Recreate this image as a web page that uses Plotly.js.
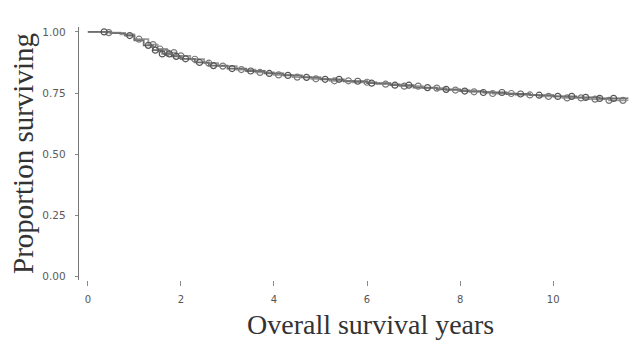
<!DOCTYPE html>
<html>
<head>
<meta charset="utf-8">
<script src="https://cdn.plot.ly/plotly-3.0.1.min.js"></script>
<style>html,body{margin:0;padding:0;background:#fff;}#chart{width:629px;height:343px;}</style>
</head>
<body>
<div id="chart"></div>
<script>
// Group A step curve
const timeA = [0, 0.5, 0.8, 1.0, 1.2, 1.4, 1.6, 1.8, 2.0, 2.3, 2.6, 3.0, 3.4, 3.8, 4.2, 4.6, 5.0, 5.5, 6.0, 6.5, 7.0, 7.5, 8.0, 8.5, 9.0, 9.5, 10.0, 10.5, 11.0, 11.6];
const survA = [1.0, 0.995, 0.985, 0.965, 0.945, 0.925, 0.91, 0.9, 0.89, 0.875, 0.862, 0.85, 0.84, 0.83, 0.822, 0.814, 0.806, 0.798, 0.79, 0.782, 0.772, 0.765, 0.758, 0.752, 0.746, 0.741, 0.736, 0.732, 0.728, 0.726];
// Group B step curve
const timeB = [0, 0.4, 0.7, 1.0, 1.3, 1.5, 1.7, 1.9, 2.2, 2.5, 2.8, 3.2, 3.6, 4.0, 4.4, 4.8, 5.2, 5.7, 6.2, 6.7, 7.2, 7.7, 8.2, 8.7, 9.2, 9.7, 10.2, 10.7, 11.2, 11.6];
const survB = [1.0, 0.997, 0.99, 0.97, 0.948, 0.93, 0.915, 0.902, 0.888, 0.872, 0.86, 0.846, 0.834, 0.824, 0.815, 0.808, 0.8, 0.794, 0.786, 0.778, 0.77, 0.762, 0.755, 0.748, 0.742, 0.736, 0.73, 0.725, 0.72, 0.718];
// Censoring times
const censorA = [0.35, 0.9, 1.3, 1.45, 1.6, 1.75, 1.9, 2.1, 2.4, 2.7, 3.1, 3.5, 3.9, 4.3, 4.7, 5.1, 5.4, 5.8, 6.1, 6.6, 6.9, 7.3, 7.7, 8.1, 8.5, 8.9, 9.3, 9.7, 10.1, 10.4, 10.7, 11.0, 11.3];
const censorB = [0.45, 1.1, 1.4, 1.55, 1.7, 1.85, 2.0, 2.3, 2.6, 2.9, 3.3, 3.7, 4.1, 4.5, 4.9, 5.3, 5.6, 6.0, 6.4, 6.8, 7.1, 7.5, 7.9, 8.3, 8.7, 9.1, 9.5, 9.9, 10.3, 10.6, 10.9, 11.2, 11.5];
const xTicks = [0, 2, 4, 6, 8, 10];
const yTicks = [0, 0.25, 0.5, 0.75, 1.0];
const xTitle = 'Overall survival years';
const yTitle = 'Proportion surviving';

function stepAt(times, surv, t) {
  let v = surv[0];
  for (let i = 0; i < times.length; i++) { if (times[i] <= t) v = surv[i]; }
  return v;
}

const lineA = {x: timeA, y: survA, mode: 'lines', line: {shape: 'hv', color: '#6f6f6f', width: 1.8}, hoverinfo: 'skip'};
const lineB = {x: timeB, y: survB, mode: 'lines', line: {shape: 'hv', color: '#9a9a9a', width: 1.8}, hoverinfo: 'skip'};
const markA = {x: censorA, y: censorA.map(t => stepAt(timeA, survA, t)), mode: 'markers',
  marker: {symbol: 'circle-open', size: 6, color: '#555', line: {width: 1.2}}};
const markB = {x: censorB, y: censorB.map(t => stepAt(timeB, survB, t)), mode: 'markers',
  marker: {symbol: 'circle-open', size: 6, color: '#7a7a7a', line: {width: 1.2}}};

const layout = {
  width: 629, height: 343,
  margin: {l: 79, r: 0, t: 27, b: 63},
  paper_bgcolor: '#fff', plot_bgcolor: '#fff',
  showlegend: false,
  xaxis: {
    range: [-0.19, 11.63], tickvals: xTicks, ticktext: xTicks.map(String),
    showgrid: false, zeroline: false, showline: false,
    ticks: 'outside', ticklen: 5, tickcolor: '#888', tickwidth: 1,
    ticklabelstandoff: 5,
    tickfont: {family: 'DejaVu Sans, sans-serif', size: 10, color: '#555'}
  },
  yaxis: {
    range: [-0.015, 1.02], tickvals: yTicks, ticktext: yTicks.map(v => v.toFixed(2)),
    showgrid: false, zeroline: false, showline: true, linecolor: '#777', linewidth: 1.2,
    ticks: 'outside', ticklen: 3, tickcolor: '#888',
    ticklabelstandoff: 7,
    tickfont: {family: 'DejaVu Sans, sans-serif', size: 10.5, color: '#5a5a5a'},
    title: {text: yTitle, font: {family: 'Liberation Serif, serif', size: 29, color: '#333'}, standoff: 0}
  },
  annotations: [{
    text: xTitle, xref: 'paper', yref: 'paper', x: 0.53, y: 0, yshift: -44,
    xanchor: 'center', yanchor: 'middle', showarrow: false,
    font: {family: 'Liberation Serif, serif', size: 28, color: '#333'}
  }]
};

Plotly.newPlot('chart', [lineB, lineA, markB, markA], layout, {displayModeBar: false, staticPlot: true});
</script>
</body>
</html>
